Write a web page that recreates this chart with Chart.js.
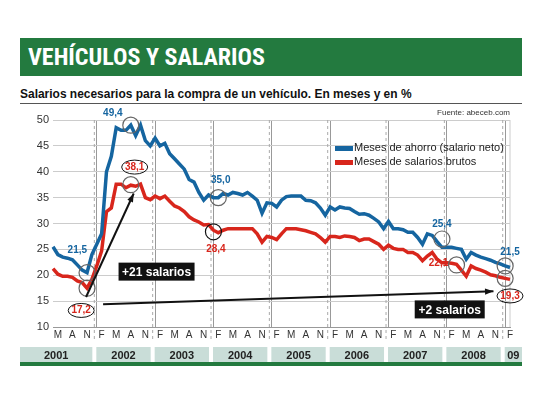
<!DOCTYPE html>
<html><head><meta charset="utf-8">
<script src="https://cdn.jsdelivr.net/npm/chart.js@4"></script>
<style>
body{margin:0;width:540px;height:405px;background:#fff;font-family:"Liberation Sans Narrow","Liberation Sans",Arial,sans-serif;position:relative;overflow:hidden}
#hdr{position:absolute;left:20px;top:38px;width:502px;height:38px;background:#237a3f;color:#fff;font:bold 24px "Liberation Sans Narrow","Roboto Condensed",sans-serif;line-height:38px;padding-left:8px;box-sizing:border-box;letter-spacing:0px}
#sub{position:absolute;left:20px;top:86px;font:bold 13px "Liberation Sans",sans-serif;color:#111;transform:scaleX(0.92);transform-origin:left}
#ln{position:absolute;left:20px;top:103px;width:502px;height:1px;background:#555}
#wrap{position:absolute;left:0;top:105px;width:540px;height:258px}
#bot{position:absolute;left:20px;top:362px;width:502px;height:4px;background:#237a3f}
</style></head><body>
<div id="hdr">VEHÍCULOS Y SALARIOS</div>
<div id="sub">Salarios necesarios para la compra de un vehículo. En meses y en %</div>
<div id="ln"></div>
<div id="wrap"><canvas id="c" width="540" height="258"></canvas></div>
<div id="bot"></div>
<script>
// monthly, April 2001 .. February 2009
const startYear = 2001, startMonth = 3; // April (0-based)
const ahorro = [25.5,24,23.5,23.3,23,22,21,20.5,24,26,28,40,43,48.5,48,48,49,47,49,46,45,46.5,45,45.5,43.5,42.5,41.5,40.5,38.5,38,36,34.5,35.5,35,35,35.8,35.5,36,35.8,35.5,36,35.3,34.5,32,34,
33.9,33.2,34.5,35.2,35.3,35.3,35.3,34.5,34.4,34,33,31.6,33.2,32.6,33.2,33,32.9,32.3,31.8,31.9,31.6,31,30.3,29,30.4,29,29,28.8,28.3,28.3,27.3,26,28,27.7,26.5,25.4,25.4,25.4,25.2,25,23.1,24.4,23.9,23.5,23.2,22.9,22.5,22.2,21.8,21.5];
const brutos = [21.3,20.2,19.8,19.8,19.6,18.9,18.6,17.5,19.2,21.8,24.7,32.3,33,37.6,37.6,36.9,37.4,37.2,37.6,35,34.6,35.3,34.8,35.3,34.3,33.4,33,32.3,31.3,30.7,30.3,29.7,29.8,28.7,28.2,28.7,29,29,29,29,29,29,28,26.4,27.5,
27.3,26.9,28,29,29,29,28.8,28.6,28.3,28,27.3,26.4,27.5,27.5,27.3,27.6,27.5,27.3,26.7,27,27,26.5,26,25,25.8,25.2,25,25,24.4,24.4,23.9,22.8,23.7,24.4,23.1,22.4,22.4,22.3,22.1,21,19.8,21.8,21.3,21,20.6,20.1,19.9,19.6,19.4,19.2];
const yearLabels = ["2001","2002","2003","2004","2005","2006","2007","2008","09"];
const monthLetters = {1:"F",4:"M",7:"A",10:"N"};
const seriesNames = ["Meses de ahorro (salario neto)","Meses de salarios brutos"];
const yTicks = [10,15,20,25,30,35,40,45,50];

const labels = ahorro.map((_,i)=>{const m=(startMonth+i)%12;return monthLetters[m]||"";});
const monthOf = i => (startMonth+i)%12;
const BLUE="#1565a0", RED="#d8261c";

const anno = {
 id:'anno',
 afterDatasetsDraw(ch){
  const c=ch.ctx,x=ch.scales.x,y=ch.scales.y,a=ch.chartArea;
  const X=i=>x.getPixelForValue(i), Y=v=>y.getPixelForValue(v);
  c.save();
  // circles
  const circ=(i,v,col)=>{c.beginPath();c.arc(X(i),Y(v),8,0,Math.PI*2);c.strokeStyle=col;c.lineWidth=1.2;c.stroke();};
  [[7,20.5],[7,17.5],[16,49],[16,37.5],[34,35],[80,27],[83,22],[93,21.8],[93,19.4]].forEach(p=>circ(p[0],p[1],"#666"));
  circ(33,28.4,"#111");
  // arrows
  const arrow=(i1,v1,i2,v2)=>{const x1=X(i1),y1=Y(v1),x2=X(i2),y2=Y(v2);c.strokeStyle="#111";c.fillStyle="#111";c.lineWidth=2;
   c.beginPath();c.moveTo(x1,y1);c.lineTo(x2,y2);c.stroke();const ang=Math.atan2(y2-y1,x2-x1);
   c.beginPath();c.moveTo(x2,y2);c.lineTo(x2-9*Math.cos(ang-0.35),y2-9*Math.sin(ang-0.35));c.lineTo(x2-9*Math.cos(ang+0.35),y2-9*Math.sin(ang+0.35));c.fill();};
  arrow(6.8,15.8,16.6,35.8);
  arrow(10.3,14.4,90.6,16.9);
  // value labels
  c.font='bold 10px "Liberation Sans Narrow","Liberation Sans",sans-serif';c.textAlign='center';c.textBaseline='middle';
  const lab=(t,i,v,col,ell)=>{c.fillStyle=col;c.fillText(t,X(i),Y(v));if(ell){c.beginPath();c.ellipse(X(i),Y(v),13,7,0,0,Math.PI*2);c.strokeStyle="#111";c.lineWidth=1;c.stroke();}};
  lab("21,5",5,24.8,BLUE);lab("49,4",12.3,51.3,BLUE);lab("35,0",34.5,38.3,BLUE);lab("25,4",80,29.8,BLUE);lab("21,5",94,24.4,BLUE);
  lab("38,1",16.8,40.9,RED,true);lab("28,4",33.5,25,RED);lab("17,2",5.8,13.2,RED,true);lab("22,1",79.3,22.4,RED);lab("19,3",94,16,RED,true);
  // boxes
  const box=(t,i,v,w)=>{const cx=X(i),cy=Y(v);c.fillStyle="#111";c.fillRect(cx-w/2,cy-9,w,18);c.fillStyle="#fff";c.font='bold 12px "Liberation Sans",sans-serif';c.fillText(t,cx,cy+1);};
  box("+21 salarios",21.3,20.7,76);box("+2 salarios",81.6,13.4,70);
  // legend
  c.textAlign='left';c.font='11px "Liberation Sans Narrow","Liberation Sans",sans-serif';
  [[BLUE,0,148],[RED,1,162]].forEach(l=>{c.fillStyle=l[0];c.fillRect(335,l[2]-105-2,18,5);c.fillStyle="#222";c.fillText(seriesNames[l[1]],354,l[2]-105);});
  c.font='8px "Liberation Sans",sans-serif';c.textAlign='right';c.fillStyle="#333";c.fillText("Fuente: abeceb.com",a.right,8);
  // year band
  c.font='bold 11px "Liberation Sans",sans-serif';c.textAlign='center';
  const by=a.bottom+20;
  yearLabels.forEach((t,k)=>{let s=(k===0)?-0.5-(startMonth-0)+0:12*k-startMonth-0.5;let e=s+12;
   let x1=(k===0)?20:X(s)+2, x2=(k===yearLabels.length-1)?522:X(e)-2;c.fillStyle="#c9ddd8";c.fillRect(x1,by,x2-x1,17);c.fillStyle="#222";c.fillText(t,(x1+x2)/2,by+9);});
  c.restore();
 }
};

new Chart(document.getElementById('c'),{
 type:'line',
 data:{labels,datasets:[
  {label:seriesNames[0],data:ahorro,borderColor:BLUE,borderWidth:3.5,pointRadius:0,tension:0},
  {label:seriesNames[1],data:brutos,borderColor:RED,borderWidth:3.5,pointRadius:0,tension:0}]},
 options:{responsive:false,animation:false,
  layout:{padding:{left:0,right:30,top:15,bottom:20}},
  plugins:{legend:{display:false},tooltip:{enabled:false}},
  scales:{
   x:{offset:false,ticks:{autoSkip:false,maxRotation:0,color:"#333",font:{size:10,family:"Liberation Sans"},padding:2,callback:(v,i)=>labels[i]},
      grid:{drawTicks:false,color:(ctx)=>monthOf(ctx.index)===0?"#999":"rgba(0,0,0,0)",lineWidth:1},border:{display:true,color:"#999"}},
   y:{min:10,max:50,afterBuildTicks:s=>{s.ticks=yTicks.map(v=>({value:v}));},
      ticks:{color:"#333",font:{size:11,family:"Liberation Sans"},padding:4},
      grid:{color:"#ccc",drawTicks:false},border:{display:false},afterFit:s=>{s.width=53;}}
  }},
 plugins:[anno,{id:'dash',beforeDatasetsDraw(ch){const c=ch.ctx,x=ch.scales.x,a=ch.chartArea;c.save();c.strokeStyle="#aaa";c.setLineDash([3,3]);c.lineWidth=1;
   ahorro.forEach((_,i)=>{if(monthOf(i)===0){const px=x.getPixelForValue(i)-x.width/(ahorro.length-1)/2;c.beginPath();c.moveTo(px,a.top);c.lineTo(px,a.bottom+14);c.stroke();}});
   c.setLineDash([]);c.beginPath();c.moveTo(a.right,a.top);c.lineTo(a.right,a.bottom);c.strokeStyle="#ccc";c.stroke();c.restore();}}]
});
</script></body></html>
